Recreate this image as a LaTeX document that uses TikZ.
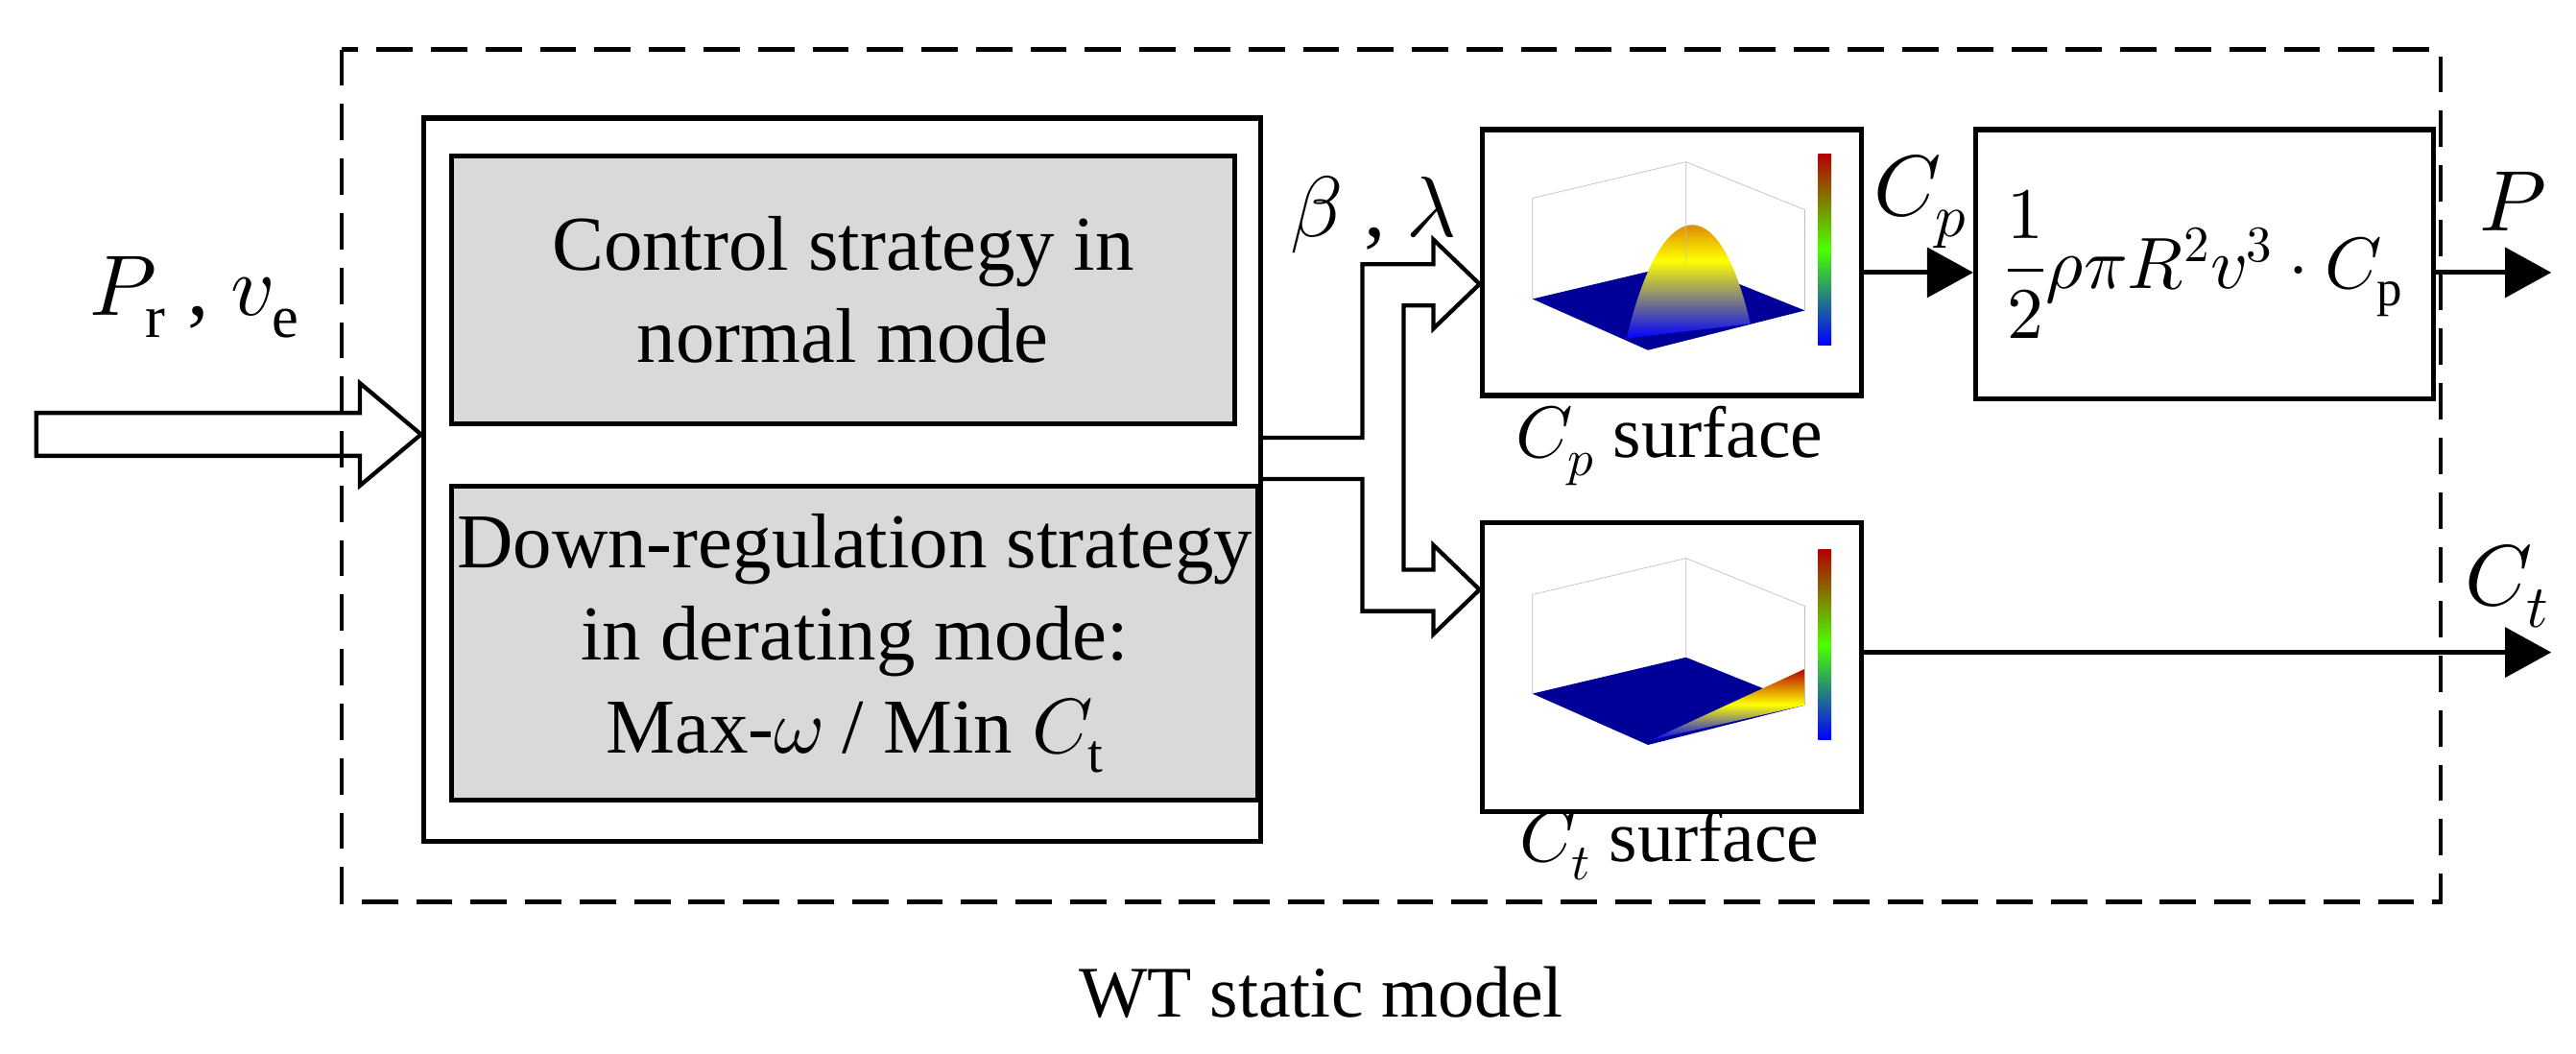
\documentclass[tikz,border=0pt]{standalone}
\usetikzlibrary{arrows.meta}
\usepackage{fontspec}
\setmainfont{Liberation Serif}
\usepackage{unicode-math}
\setmathfont{Latin Modern Math}
\begin{document}
\begin{tikzpicture}[x=1pt,y=-1pt,
  box/.style={draw,line width=3pt},
  gbox/.style={draw,line width=3pt,fill=black!15},
  arr/.style={line width=3pt,-{Triangle[length=28pt,width=30pt]}},
  txt/.style={font=\fontsize{47}{56}\selectfont,align=center},
  lab/.style={font=\fontsize{52}{56}\selectfont}]
\useasboundingbox (0,0) rectangle (1560,638);
\draw[line width=2.5pt,dash pattern=on 22pt off 11pt] (207,30) rectangle (1478,546);
\node[box,minimum width=507pt,minimum height=438pt,anchor=north west] (ctrl) at (255,70) {};
\node[gbox,minimum width=474pt,minimum height=162pt,anchor=north west,txt] (n1) at (272,93) {Control strategy in\\normal mode};
\node[gbox,minimum width=474pt,minimum height=190pt,anchor=north west,txt] (n2) at (272,293) {Down-regulation strategy\\in derating mode:\\Max-$\omega$ / Min $C_{\mathrm{t}}$};
% input hollow arrow
\draw[line width=2.5pt,line join=miter] (22,250) -- (218,250) -- (218,232) -- (255,263) -- (218,294) -- (218,276) -- (22,276) -- cycle;
\node[lab] (in) at (118,180) {$P_{\mathrm{r}}$ , $v_{\mathrm{e}}$};
% boxes
\node[box,minimum width=230pt,minimum height=161pt,anchor=north west] (cp) at (896,77) {};
\node[box,minimum width=230pt,minimum height=175pt,anchor=north west] (ct) at (896,315) {};
\node[box,minimum width=277pt,minimum height=163pt,anchor=north west,font=\fontsize{44}{52}\selectfont] (f) at (1195,77) {$\dfrac{1}{2}\rho\pi R^{2}v^{3}\cdot C_{\mathrm{p}}$};
% split hollow arrow
\draw[line width=2.5pt,line join=miter] (762,265) -- (825,265) -- (825,160) -- (868,160) -- (868,145) -- (896,172) -- (868,199) -- (868,185) -- (850,185) -- (850,345) -- (868,345) -- (868,330) -- (896,357) -- (868,384) -- (868,370) -- (825,370) -- (825,290) -- (762,290);
\node[lab] (bl) at (832,130) {$\beta$ , $\lambda$};
% Cp plot
\fill[blue!60!black] (928,181) -- (1021,159) -- (1093,188) -- (998,212) -- cycle;
\shade[top color=red!70!black,bottom color=blue,middle color=yellow] (985,205) .. controls (1005,120) and (1040,110) .. (1060,196) -- cycle;
\shade[top color=red!70!black,bottom color=blue,middle color=green!70!yellow] (1101,93) rectangle (1109,209);
\draw[black!25,line width=0.4pt] (928,181) -- (928,120) -- (1021,98) -- (1093,127) -- (1093,188) (1021,98) -- (1021,159);
\node[font=\fontsize{44}{50}\selectfont] (cpl) at (1011,270) {$C_p$ surface};
% Ct plot
\fill[blue!60!black] (928,420) -- (1021,398) -- (1093,427) -- (998,451) -- cycle;
\shade[top color=red!70!black,bottom color=blue,middle color=yellow] (1000,448) -- (1093,405) -- (1093,427) -- cycle;
\shade[top color=red!70!black,bottom color=blue,middle color=green!70!yellow] (1101,333) rectangle (1109,448);
\draw[black!25,line width=0.4pt] (928,420) -- (928,360) -- (1021,338) -- (1093,367) -- (1093,427) (1021,338) -- (1021,398);
\node[font=\fontsize{44}{50}\selectfont] (ctl) at (1011,512) {$C_t$ surface};
% outputs
\coordinate (pe) at (1545,165);
\coordinate (te) at (1545,395);
\draw[arr] (cp.east |- 0,165) -- (f.west |- 0,165);
\draw[arr] (f.east |- 0,165) -- (pe);
\draw[arr] (ct.east |- 0,395) -- (te);
\node[lab] (cpo) at (1163,122) {$C_p$};
\node[lab] (po) at (1522,122) {$P$};
\node[lab] (cto) at (1518,355) {$C_t$};
\node[font=\fontsize{44}{50}\selectfont] (wt) at (800,601) {WT static model};
\end{tikzpicture}
\end{document}
